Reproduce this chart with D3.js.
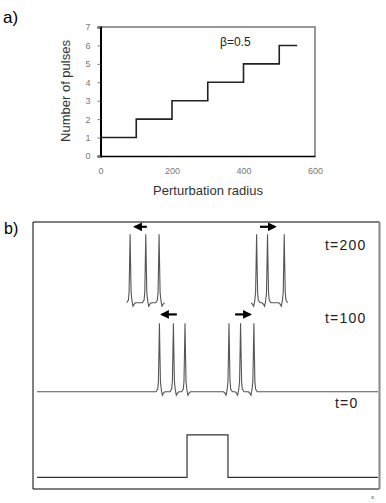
<!DOCTYPE html>
<html>
<head>
<meta charset="utf-8">
<script src="https://cdn.jsdelivr.net/npm/d3@7"></script>
<style>
  body { margin: 0; background: #fff; }
  svg { display: block; font-family: Arial, "Liberation Sans", sans-serif; }
</style>
</head>
<body>
<div id="chart"></div>
<script>
// panel a) data
const radius = [0, 100, 200, 300, 400, 500, 550];
const pulses = [1, 2, 3, 4, 5, 6, 6];
const xTicksA = [0, 200, 400, 600];
const yTicksA = [0, 1, 2, 3, 4, 5, 6, 7];

// panel b) data: space units 0..100, amplitude units
const times = ["t=0", "t=100", "t=200"];
const baseLevel = [0.17, 1.42, 2.72];
const stimStart = 44, stimEnd = 56, stimHeight = 0.62;
const peaks100Left = [35.9, 40.0, 43.4];
const peaks100Right = [56.3, 59.7, 63.6];
const peaks200Left = [27.3, 31.9, 35.8];
const peaks200Right = [64.4, 67.6, 72.5];
// pulse profile: offset (space units, toward the tail), height
const profileDx = [-1.0, -0.5, -0.3, -0.15, 0, 0.15, 0.3, 0.55, 0.85, 1.2, 1.6];
const profileH  = [0, 0.04, 0.15, 0.55, 1, 0.55, 0.15, 0.03, -0.05, -0.02, 0];
const arrowsT200 = [[32.2, 28.7], [65.4, 69.8]];
const arrowsT100 = [[41.0, 36.6], [58.1, 62.5]];

const W = 386, H = 503;
const svg = d3.select("#chart").append("svg")
  .attr("width", W).attr("height", H);

svg.append("defs").append("marker")
  .attr("id", "head").attr("viewBox", "0 0 10 10")
  .attr("refX", 8).attr("refY", 5)
  .attr("markerWidth", 4).attr("markerHeight", 4)
  .attr("orient", "auto")
  .append("path").attr("d", "M0,0L10,5L0,10z").attr("fill", "#000");

// ---------- panel a ----------
svg.append("text").attr("x", 3).attr("y", 23)
  .attr("font-size", 17).text("a)");

const xa = d3.scaleLinear().domain([0, 600]).range([100.5, 315]);
const ya = d3.scaleLinear().domain([0, 7]).range([156, 27]);

// frame top/right
svg.append("path")
  .attr("d", `M${xa(0)},${ya(7)}H${xa(600)}V${ya(0)}`)
  .attr("fill", "none").attr("stroke", "#777").attr("stroke-width", 1.5);

const gy = svg.append("g").attr("transform", `translate(${xa(0)},0)`)
  .call(d3.axisLeft(ya).tickValues(yTicksA).tickFormat(d3.format("d")).tickSize(3).tickPadding(7));
gy.select(".domain").attr("stroke", "#000").attr("stroke-width", 2);
gy.selectAll("text").attr("font-size", 9).attr("fill", "#777")
  .attr("font-family", "Arial, sans-serif");
gy.selectAll(".tick line").attr("stroke", "#777");

const gx = svg.append("g").attr("transform", `translate(0,${ya(0)})`)
  .call(d3.axisBottom(xa).tickValues(xTicksA).tickFormat(d3.format("d")).tickSize(0).tickPadding(12));
gx.select(".domain").attr("stroke", "#000").attr("stroke-width", 1.5);
gx.selectAll("text").attr("font-size", 9).attr("fill", "#777")
  .attr("font-family", "Arial, sans-serif");

svg.append("path")
  .datum(radius.map((r, i) => [r, pulses[i]]))
  .attr("d", d3.line().x(d => xa(d[0])).y(d => ya(d[1])).curve(d3.curveStepAfter))
  .attr("fill", "none").attr("stroke", "#222").attr("stroke-width", 1.6);

svg.append("text").attr("x", 220).attr("y", 46)
  .attr("font-size", 12).attr("fill", "#222").text("β=0.5");

svg.append("text").attr("x", 208).attr("y", 195)
  .attr("text-anchor", "middle").attr("font-size", 13).attr("fill", "#333")
  .text("Perturbation radius");

svg.append("text")
  .attr("transform", `translate(70,91) rotate(-90)`)
  .attr("text-anchor", "middle").attr("font-size", 13).attr("fill", "#333")
  .text("Number of pulses");

// ---------- panel b ----------
svg.append("text").attr("x", 4).attr("y", 234)
  .attr("font-size", 16).text("b)");

const xb = d3.scaleLinear().domain([0, 100]).range([37, 378]);
const yb = d3.scaleLinear().domain([0, 3.9]).range([489, 222]);

svg.append("path")
  .attr("d", `M379.5,222H33V489H379.5`)
  .attr("fill", "none").attr("stroke", "#000").attr("stroke-width", 1);
svg.append("line").attr("x1", 379.5).attr("x2", 379.5).attr("y1", 222).attr("y2", 489)
  .attr("stroke", "#888").attr("stroke-width", 2);

const line = d3.line().x(d => xb(d[0])).y(d => yb(d[1]));

// pulse points for a group; dir = +1 tail to the right, -1 tail to the left
function pulsePoints(peaks, base, dir) {
  const pts = [];
  const sorted = peaks.slice().sort((a, b) => a - b);
  sorted.forEach(p => {
    const prof = profileDx.map((dx, i) => [p + dir * dx, base + profileH[i]]);
    if (dir < 0) prof.reverse();
    prof.forEach(q => pts.push(q));
  });
  return pts;
}

// t=0
const t0 = [[0, baseLevel[0]], [stimStart, baseLevel[0]], [stimStart, baseLevel[0] + stimHeight],
  [stimEnd, baseLevel[0] + stimHeight], [stimEnd, baseLevel[0]], [100, baseLevel[0]]];
svg.append("path").datum(t0).attr("d", line)
  .attr("fill", "none").attr("stroke", "#333").attr("stroke-width", 1.2);

// t=100 with full baseline
const t100 = [[0, baseLevel[1]]]
  .concat(pulsePoints(peaks100Left, baseLevel[1], 1))
  .concat(pulsePoints(peaks100Right, baseLevel[1], -1))
  .concat([[100, baseLevel[1]]]);
svg.append("path").datum(t100).attr("d", line)
  .attr("fill", "none").attr("stroke", "#555").attr("stroke-width", 1.1);

// t=200 groups only
[[peaks200Left, 1], [peaks200Right, -1]].forEach(([pk, dir]) => {
  svg.append("path").datum(pulsePoints(pk, baseLevel[2], dir)).attr("d", line)
    .attr("fill", "none").attr("stroke", "#555").attr("stroke-width", 1.1);
});

// arrows
const arrowY = [[arrowsT200, 3.83], [arrowsT100, 2.55]];
arrowY.forEach(([arr, lev]) => {
  arr.forEach(a => {
    svg.append("line")
      .attr("x1", xb(a[0])).attr("x2", xb(a[1]))
      .attr("y1", yb(lev)).attr("y2", yb(lev))
      .attr("stroke", "#000").attr("stroke-width", 2.2)
      .attr("marker-end", "url(#head)");
  });
});

// time labels
const labelPos = [[335, 408], [325, 323], [325, 250]];
times.forEach((t, i) => {
  svg.append("text").attr("x", labelPos[i][0]).attr("y", labelPos[i][1])
    .attr("font-size", 14).attr("letter-spacing", 1.2).attr("fill", "#222").text(t);
});

svg.append("text").attr("x", 371).attr("y", 499)
  .attr("font-size", 6).attr("fill", "#444").text("x");
</script>
</body>
</html>
